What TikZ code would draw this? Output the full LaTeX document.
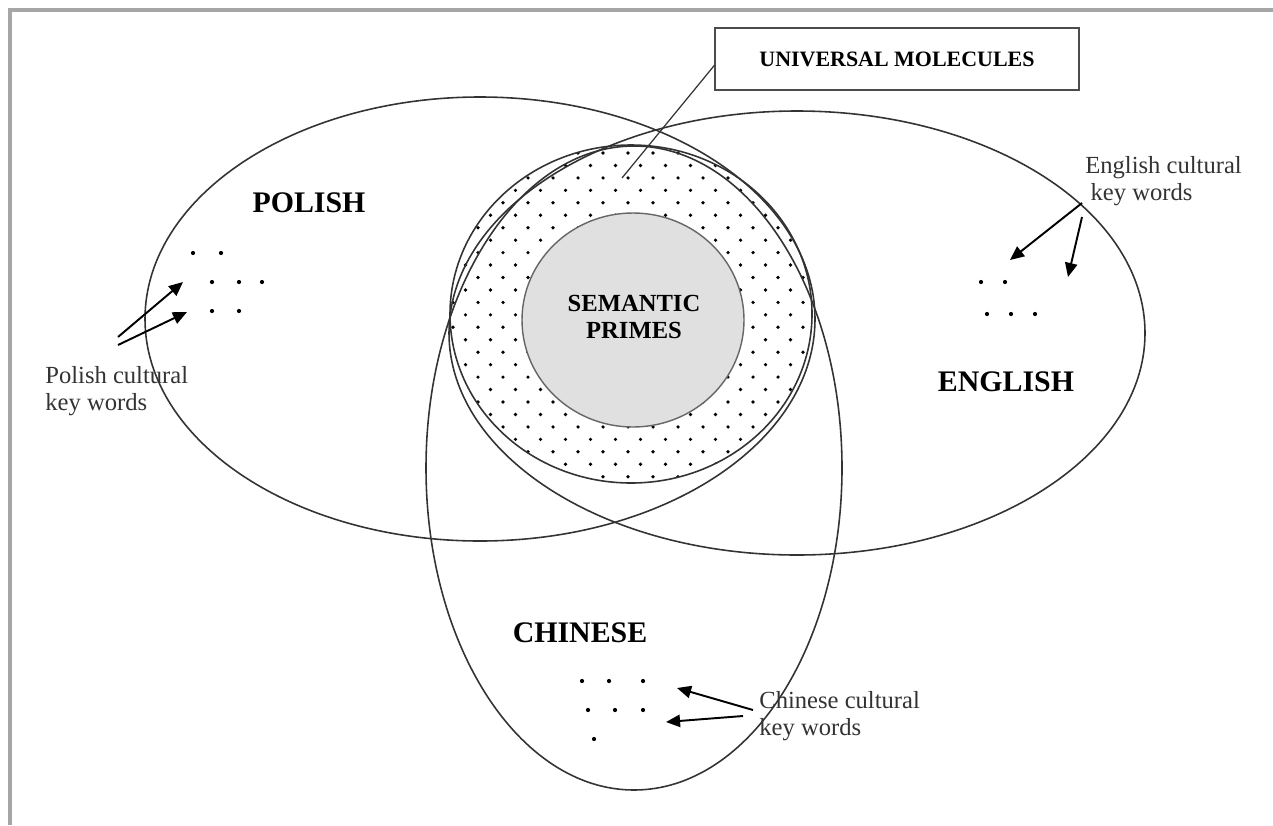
\documentclass[tikz,border=0pt]{standalone}
\usepackage{fontspec}
\setmainfont{Liberation Serif}
\usetikzlibrary{arrows.meta}

\begin{document}
\begin{tikzpicture}[x=0.02cm,y=-0.02cm,
    ring/.style={draw=black!80,line width=0.9pt},
    lang label/.style={font=\bfseries\fontsize{17}{20}\selectfont,inner sep=0pt},
    key label/.style={font=\fontsize{14}{15.3}\selectfont,text=black!80,align=left,inner sep=0pt,anchor=base west},
    kw/.style={-{Triangle[length=8pt,width=7pt]},line width=1.1pt},
    keydot/.style={fill=black}]
  \useasboundingbox (0,0) rectangle (1273,825);
  \draw[black!35,line width=2pt] (10,825) -- (10,10) -- (1273,10);

  % universal molecules: dotted ring
  \begin{scope}
    \clip (631,314) ellipse [x radius=181,y radius=169];
    \foreach \r in {-1,...,27}
      \foreach \c in {-1,...,15}
        \fill ({453+25*\c-12.5*mod(\r,2)},{153+12.45*\r}) circle (1.05pt);
  \end{scope}
  \draw[fill=black!12,draw=black!60,line width=0.8pt] (633,320) ellipse [x radius=111,y radius=107];
  \draw[ring] (631,314) ellipse [x radius=181,y radius=169];

  % the three languages
  \draw[ring] (480,319) ellipse [x radius=335,y radius=222];
  \draw[ring] (797,333) ellipse [x radius=348,y radius=222];
  \draw[ring] (634,468) ellipse [x radius=208,y radius=322];

  \node[lang label] (polish) at (309,203) {POLISH};
  \node[lang label] (english) at (1006,382) {ENGLISH};
  \node[lang label] (chinese) at (580,633) {CHINESE};
  \node[font=\bfseries\fontsize{14}{15}\selectfont,align=center,inner sep=0pt] (primes) at (634,317) {SEMANTIC\\PRIMES};
  \node[draw=black!70,line width=0.8pt,minimum width=7.28cm,minimum height=1.24cm,
        font=\bfseries\fontsize{12.5}{14}\selectfont] (um) at (897,59) {UNIVERSAL MOLECULES};
  \coordinate (umtip) at (622,178);
  \draw[black!80,line width=0.7pt] (um.182) -- (umtip);

  % key words
  \node[key label] (plkw) at (45,410) {Polish cultural\\key words};
  \node[key label] (enkw) at (1085,200) {English cultural\\\hspace{3pt}key words};
  \node[key label] (cnkw) at (759,735) {Chinese cultural\\key words};

  \foreach \p in {(193,253),(221,253),(212,282),(239,282),(262,282),(212,311),(239,311),
                  (981,282),(1005,282),(987,314),(1011,314),(1035,314),
                  (582,681),(609,681),(643,681),(588,710),(615,710),(643,710),(594,739)}
    \fill[keydot] \p circle (1.2pt);

  \coordinate (pl1) at (118,337);
  \coordinate (pl2) at (118,345);
  \coordinate (pt1) at (183,282);
  \coordinate (pt2) at (187,312);
  \coordinate (en1) at (1082,203);
  \coordinate (en2) at (1082,217);
  \coordinate (et1) at (1010,260);
  \coordinate (et2) at (1068,277);
  \coordinate (cn1) at (753,710);
  \coordinate (cn2) at (743,716);
  \coordinate (ct1) at (677,688);
  \coordinate (ct2) at (666,722);

  \path[kw]
    (pl1) edge (pt1)
    (pl2) edge (pt2)
    (en1) edge (et1)
    (en2) edge (et2)
    (cn1) edge (ct1)
    (cn2) edge (ct2);
\end{tikzpicture}
\end{document}
